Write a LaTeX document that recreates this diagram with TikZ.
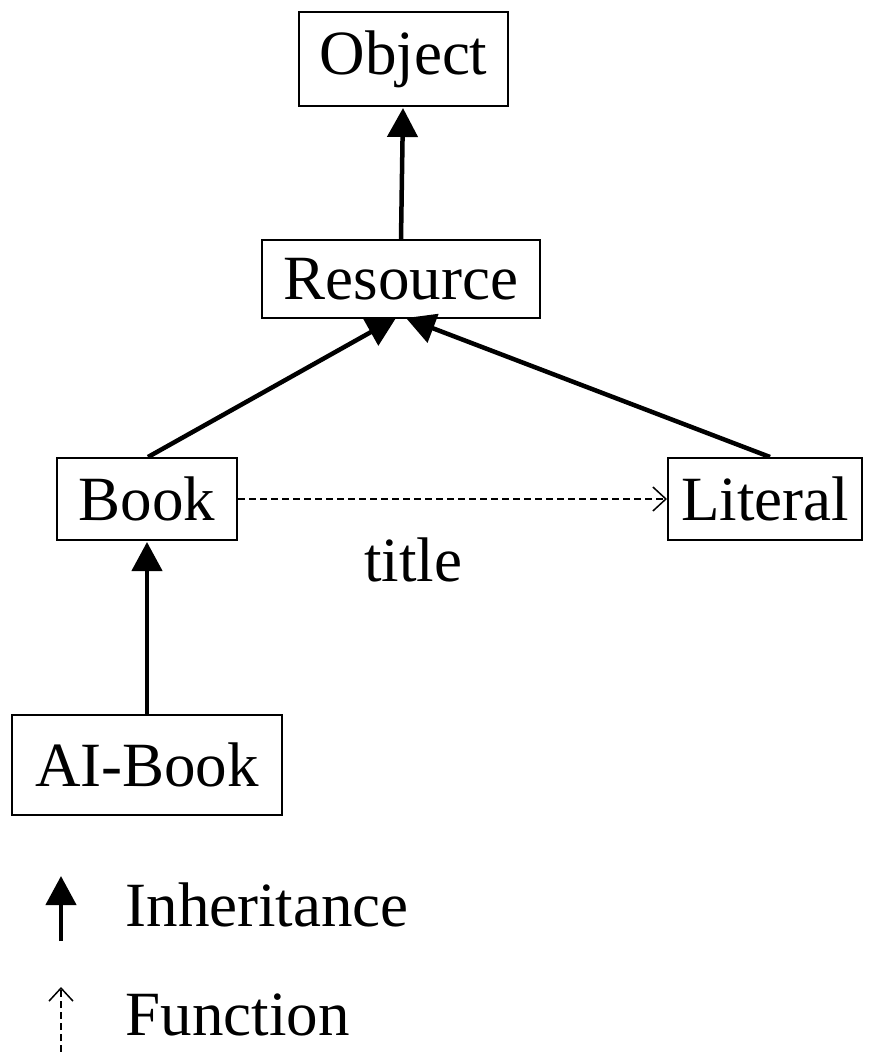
\documentclass[tikz,border=0pt]{standalone}
\usepackage{fontspec}
\setmainfont{Liberation Serif}
\usetikzlibrary{arrows.meta,calc}
\begin{document}
\begin{tikzpicture}[x=1pt,y=-1pt,
  cls/.style={draw,line width=2pt,inner sep=0pt,font=\fontsize{63}{70}\selectfont},
  inh/.style={line width=4.5pt,-{Triangle[length=29pt,width=30pt]}},
  fun/.style={line width=1.5pt,dash pattern=on 7pt off 4pt,-{Straight Barb[length=13pt,width=24pt,line width=1.5pt]}},
  lbl/.style={font=\fontsize{63}{70}\selectfont}]
\useasboundingbox (0,0) rectangle (868,1052);
\node[cls,minimum width=209pt,minimum height=94pt] (obj) at (403.5,59) {Object};
\node[cls,minimum width=278pt,minimum height=78pt] (res) at (401,279) {Resource};
\node[cls,minimum width=180pt,minimum height=82pt] (book) at (147,499) {Book};
\node[cls,minimum width=194pt,minimum height=82pt] (lit) at (765,499) {Literal};
\node[cls,minimum width=270pt,minimum height=100pt] (ai) at (147,765) {AI-Book};
\node[lbl] (title) at (413,560) {title};
\draw[inh] ($(res.north)+(0,0)$) -- ($(obj.south)+(-0.5,1)$);
\draw[inh] ($(book.north)+(1,0)$) -- ($(res.south)+(-5,-1)$);
\draw[inh] ($(lit.north)+(5,0)$) -- ($(res.south)+(5,-1)$);
\draw[inh] (ai.north) -- ($(book.south)+(0,1)$);
\draw[fun] (book.east) -- (lit.west);
% legend
\coordinate (l1a) at (61,941);
\coordinate (l1b) at (61,876);
\draw[inh] (l1a) -- (l1b);
\node[lbl,anchor=west] (inhl) at (122,905) {Inheritance};
\coordinate (l2a) at (61,1052);
\coordinate (l2b) at (61,987);
\draw[fun] (l2a) -- (l2b);
\node[lbl,anchor=west] (funl) at (122,1015) {Function};
\end{tikzpicture}
\end{document}
